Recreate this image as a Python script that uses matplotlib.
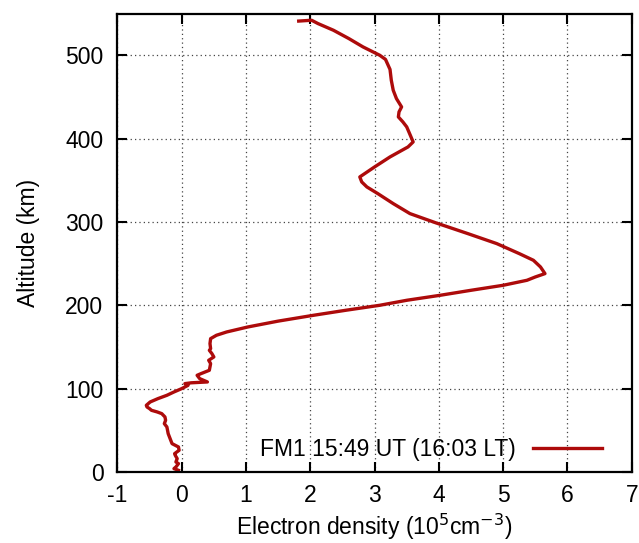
import matplotlib
matplotlib.use("Agg")
import matplotlib.pyplot as plt

plt.rcParams['font.family'] = ['Liberation Sans', 'DejaVu Sans']
plt.rcParams['axes.unicode_minus'] = False

# profile: altitude (km) and electron density (1e5 cm^-3)
altitude = [541, 542, 538, 530, 520, 510, 500, 495, 483, 470, 458, 448, 438, 432,
            426, 420, 414, 405, 396, 390, 378, 366, 354, 348, 342, 334, 322, 310,
            299, 286, 274, 262, 254, 246, 238, 234, 230, 224, 218, 212, 206, 200,
            194, 188, 181, 174, 168, 164, 160, 154, 148, 146, 142, 138, 134, 130,
            126, 122, 118, 116, 112, 108, 107, 106, 104, 100, 96, 92, 88, 84, 80,
            78, 76, 74, 72, 70, 66, 62, 58, 54, 50, 46, 42, 38, 34, 30, 26, 22,
            20, 16, 12, 10, 6, 4, 2]
density = [1.82, 2.02, 2.12, 2.36, 2.60, 2.82, 3.08, 3.17, 3.24, 3.26, 3.29, 3.34,
           3.42, 3.38, 3.37, 3.44, 3.50, 3.55, 3.60, 3.52, 3.24, 3.00, 2.77, 2.80,
           2.88, 3.05, 3.29, 3.55, 3.95, 4.45, 4.90, 5.25, 5.47, 5.58, 5.65, 5.50,
           5.37, 5.00, 4.50, 4.02, 3.50, 3.08, 2.55, 2.05, 1.50, 1.03, 0.70, 0.54,
           0.45, 0.44, 0.45, 0.43, 0.47, 0.50, 0.42, 0.45, 0.44, 0.43, 0.30, 0.24,
           0.28, 0.40, 0.15, 0.05, 0.10, 0.00, -0.12, -0.23, -0.37, -0.49, -0.55,
           -0.54, -0.50, -0.47, -0.38, -0.31, -0.26, -0.25, -0.27, -0.23, -0.22,
           -0.21, -0.19, -0.17, -0.15, -0.05, -0.04, -0.11, -0.10, -0.07, -0.09,
           -0.05, -0.09, -0.12, -0.05]
label = "FM1 15:49 UT (16:03 LT)"

xticks = list(range(-1, 8))
yticks = list(range(0, 501, 100))

fig = plt.figure(figsize=(6.39, 5.43), dpi=100)
ax = fig.add_axes([0.1837, 0.1308, 0.805, 0.8442])

ax.plot(density, altitude, color='#ad0b0b', lw=2.4, label=label)

ax.set_xlim(-1, 7)
ax.set_ylim(0, 550)
ax.set_xticks(xticks)
ax.set_yticks(yticks)
ax.grid(True, color='#444444', linestyle=(0, (1, 2.5)), linewidth=0.9)

ax.tick_params(direction='in', length=7, width=1.5, top=True, right=True,
               labelsize=16.5)
ax.tick_params(axis='x', pad=9)
ax.tick_params(axis='y', pad=10)
for s in ax.spines.values():
    s.set_linewidth(1.6)

ax.set_xlabel("Electron density (10$^5$cm$^{-3}$)", fontsize=16.5, labelpad=3)
ax.set_ylabel("Altitude (km)", fontsize=16.5, labelpad=18)

ax.legend(loc='lower right', frameon=False, markerfirst=False, fontsize=16.5,
          handlelength=3.0, handletextpad=0.75, bbox_to_anchor=(0.982, -0.022))

fig.savefig("out.png", dpi=100)
